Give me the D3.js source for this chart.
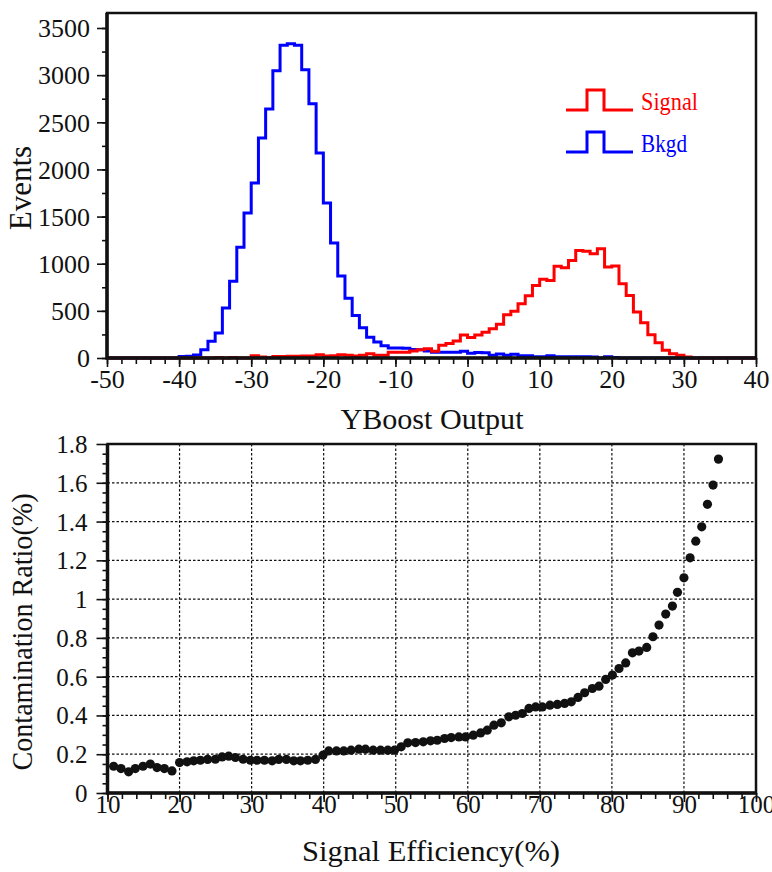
<!DOCTYPE html>
<html>
<head>
<meta charset="utf-8">
<script src="https://cdn.jsdelivr.net/npm/d3@7"></script>
<style>
body { margin: 0; background: #fff; }
svg text { font-family: "Liberation Serif", "Times New Roman", serif; fill: #111; }
</style>
</head>
<body>
<script>
// ---- histogram data: 1-unit bins from -50 to 40, counts
const binLow = d3.range(-50, 40);
const signalCounts = [
    0, 0, 0, 0, 0, 0, 0, 0, 0, 0,
    0, 0, 0, 0, 0, 5, 0, 5, 0, 0,
    25, 10, 5, 15, 15, 18, 18, 20, 20, 35,
    22, 25, 35, 28, 20, 30, 46, 30, 30, 60,
    60, 60, 74, 88, 99, 71, 134, 155, 180, 245,
    218, 245, 272, 310, 358, 460, 496, 575, 660, 770,
    834, 823, 972, 957, 1035, 1141, 1131, 1106, 1159, 965,
    975, 788, 664, 488, 374, 247, 163, 81, 46, 28,
    10, 0, 0, 0, 0, 0, 0, 0, 0, 0
];
const bkgdCounts = [
    0, 0, 0, 0, 0, 0, 0, 0, 0, 0,
    15, 18, 32, 88, 177, 265, 530, 813, 1174, 1537,
    1856, 2333, 2640, 3046, 3316, 3333, 3316, 3056, 2697, 2175,
    1644, 1220, 870, 633, 450, 320, 220, 170, 130, 106,
    106, 104, 90, 88, 75, 62, 60, 60, 60, 72,
    50, 58, 56, 30, 42, 30, 40, 25, 25, 12,
    12, 25, 12, 12, 12, 12, 12, 10, 0, 12,
    5, 0, 0, 0, 0, 0, 0, 0, 0, 0,
    0, 0, 0, 0, 0, 0, 0, 0, 0, 0
];
const histXTicks = [-50, -40, -30, -20, -10, 0, 10, 20, 30, 40];
const histYTicks = [0, 500, 1000, 1500, 2000, 2500, 3000, 3500];

// ---- efficiency scan data
const effPoints = [
    10.85, 11.87, 12.93, 13.86, 14.93, 15.94, 16.87, 17.89, 18.95, 20.0,
    21.04, 21.96, 22.89, 23.9, 24.97, 25.9, 26.82, 27.75, 28.82, 29.83,
    30.76, 31.78, 32.85, 33.77, 34.83, 35.85, 36.78, 37.79, 38.86, 39.9,
    40.7, 41.78, 42.79, 43.8, 44.88, 45.8, 46.87, 47.9, 48.9, 49.83,
    50.76, 51.68, 52.75, 53.82, 54.83, 55.76, 56.78, 57.7, 58.76, 59.69,
    60.76, 61.78, 62.7, 63.63, 64.65, 65.7, 66.64, 67.57, 68.49, 69.42,
    70.35, 71.4, 72.43, 73.44, 74.37, 75.3, 76.22, 77.29, 78.21, 79.14,
    80.07, 80.99, 81.92, 82.85, 83.76, 84.83, 85.7, 86.54, 87.47, 88.4,
    89.1, 90.0, 90.85, 91.64, 92.47, 93.26, 94.04, 94.79
];
const contamRatio = [
    0.138, 0.126, 0.109, 0.126, 0.138, 0.149, 0.131, 0.126, 0.114, 0.157,
    0.161, 0.166, 0.169, 0.173, 0.174, 0.186, 0.19, 0.183, 0.174, 0.169,
    0.169, 0.169, 0.166, 0.173, 0.173, 0.166, 0.166, 0.169, 0.173, 0.195,
    0.217, 0.217, 0.217, 0.221, 0.226, 0.226, 0.221, 0.221, 0.221, 0.221,
    0.238, 0.259, 0.26, 0.264, 0.269, 0.272, 0.281, 0.286, 0.289, 0.289,
    0.298, 0.31, 0.324, 0.35, 0.362, 0.393, 0.401, 0.41, 0.436, 0.444,
    0.444, 0.453, 0.457, 0.462, 0.47, 0.493, 0.517, 0.539, 0.551, 0.586,
    0.608, 0.642, 0.671, 0.723, 0.732, 0.751, 0.806, 0.866, 0.923, 0.964,
    1.035, 1.11, 1.213, 1.299, 1.373, 1.489, 1.588, 1.722
];
const effTicks = [10, 20, 30, 40, 50, 60, 70, 80, 90, 100];
const ratioTicks = [0, 0.2, 0.4, 0.6, 0.8, 1, 1.2, 1.4, 1.6, 1.8];

const fontFam = '"Liberation Serif", "Times New Roman", serif';
const svg = d3.select('body').append('svg')
    .attr('width', 772)
    .attr('height', 872);

// ================= top panel =================
const hx = d3.scaleLinear().domain([-50, 40]).range([107, 756]);
const hy = d3.scaleLinear().domain([0, 3500]).range([358, 28]);
const hFrameTop = 13;

const stepLine = d3.line()
    .x(function(d) { return hx(d[0]); })
    .y(function(d) { return hy(d[1]); })
    .curve(d3.curveStepAfter);

function histPoints(counts) {
    const pts = binLow.map(function(b, i) { return [b, counts[i]]; });
    pts.push([40, counts[counts.length - 1]]);
    return pts;
}

function styleAxis(g, fs) {
    g.select('.domain').remove();
    g.selectAll('line').attr('stroke', '#111').attr('stroke-width', 1.6);
    g.attr('font-family', fontFam).attr('font-size', fs);
    g.selectAll('text').attr('fill', '#111');
}

// minor ticks
svg.append('g')
    .attr('transform', 'translate(0,358)')
    .call(d3.axisBottom(hx).tickValues(d3.range(-50, 41, 2)).tickSize(6).tickFormat(''))
    .call(styleAxis, 25);
svg.append('g')
    .attr('transform', 'translate(0,358)')
    .call(d3.axisBottom(hx).tickValues(histXTicks).tickSize(9).tickFormat(function(d) { return String(d); }))
    .call(styleAxis, 26)
    .call(function(g) { g.selectAll('text').attr('y', 30).attr('dy', 0); });

svg.append('g')
    .attr('transform', 'translate(107,0)')
    .call(d3.axisLeft(hy).tickValues(d3.range(0, 3501, 250)).tickSize(5).tickFormat(''))
    .call(styleAxis, 25);
svg.append('g')
    .attr('transform', 'translate(107,0)')
    .call(d3.axisLeft(hy).tickValues(histYTicks).tickSize(10).tickFormat(function(d) { return String(d); }))
    .call(styleAxis, 26)
    .call(function(g) { g.selectAll('text').attr('x', -17).attr('dy', '0.34em'); });

// histograms (background first, signal on top)
svg.append('path')
    .attr('d', stepLine(histPoints(bkgdCounts)))
    .attr('fill', 'none')
    .attr('stroke', '#0000ff')
    .attr('stroke-width', 3);
svg.append('path')
    .attr('d', stepLine(histPoints(signalCounts)))
    .attr('fill', 'none')
    .attr('stroke', '#ff0000')
    .attr('stroke-width', 3);

// frame
svg.append('rect')
    .attr('x', 107).attr('y', hFrameTop)
    .attr('width', 756 - 107).attr('height', 358 - hFrameTop)
    .attr('fill', 'none').attr('stroke', '#111').attr('stroke-width', 2.5);
svg.append('path')
    .attr('d', 'M107,' + hFrameTop + 'V358H756')
    .attr('fill', 'none').attr('stroke', '#111').attr('stroke-width', 3.5);

// legend
const legend = [
    {label: 'Signal', color: '#ff0000', y: 110, w: 57},
    {label: 'Bkgd', color: '#0000ff', y: 152, w: 46}
];
legend.forEach(function(l) {
    svg.append('path')
        .attr('d', 'M566,' + l.y + 'H587V' + (l.y - 20) + 'H604V' + l.y + 'H633')
        .attr('fill', 'none').attr('stroke', l.color).attr('stroke-width', 3);
    svg.append('text')
        .attr('x', 641).attr('y', l.y)
        .attr('font-size', 25)
        .attr('textLength', l.w)
        .attr('lengthAdjust', 'spacingAndGlyphs')
        .style('fill', l.color)
        .text(l.label);
});

svg.append('text')
    .attr('transform', 'translate(31,188) rotate(-90)')
    .attr('text-anchor', 'middle')
    .attr('font-size', 31)
    .text('Events');
svg.append('text')
    .attr('x', 432).attr('y', 429)
    .attr('text-anchor', 'middle')
    .attr('font-size', 30)
    .attr('textLength', 183)
    .attr('lengthAdjust', 'spacingAndGlyphs')
    .text('YBoost Output');

// ================= bottom panel =================
const ex = d3.scaleLinear().domain([10, 100]).range([107.5, 756]);
const ey = d3.scaleLinear().domain([0, 1.8]).range([793, 444]);

// dotted grid
svg.append('g').selectAll('line.vg')
    .data(effTicks.slice(1, -1))
    .enter().append('line')
    .attr('x1', function(d) { return ex(d); })
    .attr('x2', function(d) { return ex(d); })
    .attr('y1', ey(0)).attr('y2', ey(1.8))
    .attr('stroke', '#111').attr('stroke-width', 1.2)
    .attr('stroke-dasharray', '2.5,2');
svg.append('g').selectAll('line.hg')
    .data(ratioTicks.slice(1, -1))
    .enter().append('line')
    .attr('y1', function(d) { return ey(d); })
    .attr('y2', function(d) { return ey(d); })
    .attr('x1', ex(10)).attr('x2', ex(100))
    .attr('stroke', '#111').attr('stroke-width', 1.2)
    .attr('stroke-dasharray', '2.5,2');

svg.append('g')
    .attr('transform', 'translate(0,793)')
    .call(d3.axisBottom(ex).tickValues(d3.range(10, 101, 2)).tickSize(6).tickFormat(''))
    .call(styleAxis, 25);
svg.append('g')
    .attr('transform', 'translate(0,793)')
    .call(d3.axisBottom(ex).tickValues(effTicks).tickSize(9).tickFormat(function(d) { return String(d); }))
    .call(styleAxis, 25)
    .call(function(g) { g.selectAll('text').attr('y', 20).attr('dy', 0); });

svg.append('g')
    .attr('transform', 'translate(107.5,0)')
    .call(d3.axisLeft(ey).tickValues(d3.range(0, 36).map(function(i) { return i * 0.05; })).tickSize(5).tickFormat(''))
    .call(styleAxis, 25);
svg.append('g')
    .attr('transform', 'translate(107.5,0)')
    .call(d3.axisLeft(ey).tickValues(ratioTicks).tickSize(11).tickFormat(function(d) { return String(+d.toFixed(1)); }))
    .call(styleAxis, 25)
    .call(function(g) { g.selectAll('text').attr('x', -20).attr('dy', '0.34em'); });

svg.append('g').selectAll('circle')
    .data(effPoints)
    .enter().append('circle')
    .attr('cx', function(d) { return ex(d); })
    .attr('cy', function(d, i) { return ey(contamRatio[i]); })
    .attr('r', 4.6)
    .attr('fill', '#111');

svg.append('rect')
    .attr('x', 107.5).attr('y', 444)
    .attr('width', 756 - 107.5).attr('height', 793 - 444)
    .attr('fill', 'none').attr('stroke', '#111').attr('stroke-width', 2.5);
svg.append('path')
    .attr('d', 'M107.5,444V793H756')
    .attr('fill', 'none').attr('stroke', '#111').attr('stroke-width', 3.5);

svg.append('text')
    .attr('transform', 'translate(32,632) rotate(-90)')
    .attr('text-anchor', 'middle')
    .attr('font-size', 29)
    .attr('textLength', 277)
    .attr('lengthAdjust', 'spacingAndGlyphs')
    .text('Contamination Ratio(%)');
svg.append('text')
    .attr('x', 431).attr('y', 861)
    .attr('text-anchor', 'middle')
    .attr('font-size', 29)
    .attr('textLength', 258)
    .attr('lengthAdjust', 'spacingAndGlyphs')
    .text('Signal Efficiency(%)');
</script>
</body>
</html>
